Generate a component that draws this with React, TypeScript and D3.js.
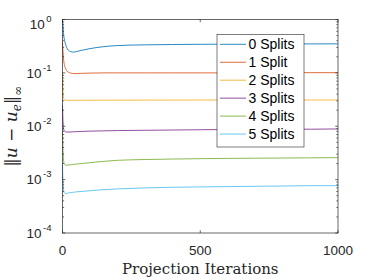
import React, { useRef, useEffect } from 'react';
import * as d3 from 'd3';

// iterations sampled along the curves
const iterations = [0, 2, 5, 10, 15, 20, 30, 40, 50, 70, 100, 150, 200, 300, 400, 500, 600, 700, 800, 900, 1000];

const split0 = [1.0, 0.7, 0.48, 0.36, 0.3, 0.27, 0.25, 0.245, 0.25, 0.265, 0.285, 0.31, 0.325, 0.335, 0.34, 0.343, 0.345, 0.347, 0.348, 0.349, 0.35];
const split1 = [0.38, 0.25, 0.16, 0.125, 0.11, 0.104, 0.099, 0.097, 0.097, 0.098, 0.099, 0.1, 0.1, 0.1, 0.1, 0.1, 0.1, 0.101, 0.101, 0.101, 0.101];
const split2 = [0.1, 0.045, 0.032, 0.0308, 0.0306, 0.0306, 0.0306, 0.0306, 0.0306, 0.0307, 0.0307, 0.0308, 0.0308, 0.0309, 0.0309, 0.031, 0.031, 0.031, 0.031, 0.031, 0.031];
const split3 = [0.025, 0.012, 0.0085, 0.0079, 0.0078, 0.0078, 0.0078, 0.0079, 0.0079, 0.008, 0.0081, 0.0082, 0.0083, 0.0084, 0.0085, 0.0086, 0.0087, 0.0087, 0.0088, 0.0088, 0.0089];
const split4 = [0.008, 0.0035, 0.0021, 0.00188, 0.00186, 0.00188, 0.0019, 0.00193, 0.00196, 0.002, 0.00208, 0.0022, 0.0023, 0.00238, 0.00243, 0.00247, 0.0025, 0.00252, 0.00254, 0.00256, 0.00258];
const split5 = [0.0019, 0.0009, 0.0006, 0.00055, 0.00055, 0.00056, 0.00057, 0.00058, 0.00059, 0.0006, 0.00062, 0.00065, 0.00067, 0.0007, 0.00072, 0.00073, 0.00074, 0.00075, 0.00076, 0.00077, 0.00077];

const seriesNames = ['0 Splits', '1 Split', '2 Splits', '3 Splits', '4 Splits', '5 Splits'];
const seriesValues = [split0, split1, split2, split3, split4, split5];
const colors = ['#0072BD', '#D95319', '#EDB120', '#7E2F8E', '#77AC30', '#4DBEEE'];

const xTicks = [0, 500, 1000];
const yExponents = [0, -1, -2, -3, -4];

const W = 374;
const H = 280;
const margin = { left: 62.5, right: 36, top: 19.5, bottom: 47 };
const axisColor = '#262626';

const App = () => {
  const svgRef = useRef<SVGSVGElement>(null);

  useEffect(() => {
    const svg = d3.select(svgRef.current);
    svg.selectAll('*').remove();

    const x = d3.scaleLinear().domain([0, 1000]).range([margin.left, W - margin.right]);
    const y = d3.scaleLog().domain([1e-4, 1]).range([H - margin.bottom, margin.top]);
    const [x0, x1] = x.range();
    const [y1, y0] = y.range();

    svg.append('rect').attr('width', W).attr('height', H).attr('fill', '#fff');

    // lines
    const line = d3.line<number>()
      .x((d, i) => x(iterations[i]))
      .y(d => y(d))
      .curve(d3.curveMonotoneX);

    seriesValues.forEach((vals, k) => {
      svg.append('path')
        .datum(vals)
        .attr('d', line)
        .attr('fill', 'none')
        .attr('stroke', colors[k])
        .attr('stroke-width', 0.85);
    });

    // box
    const g = svg.append('g').attr('stroke', axisColor).attr('stroke-width', 0.7).attr('fill', 'none');
    g.append('rect').attr('x', x0).attr('y', y0).attr('width', x1 - x0).attr('height', y1 - y0);

    // y ticks, major and minor, both sides
    const major = 2.75;
    const minor = 1.6;
    for (let e = -4; e <= 0; e++) {
      const yy = y(Math.pow(10, e));
      g.append('line').attr('x1', x0).attr('x2', x0 + major).attr('y1', yy).attr('y2', yy);
      g.append('line').attr('x1', x1).attr('x2', x1 - major).attr('y1', yy).attr('y2', yy);
      if (e < 0) {
        for (let m = 2; m <= 9; m++) {
          const ym = y(m * Math.pow(10, e));
          g.append('line').attr('x1', x0).attr('x2', x0 + minor).attr('y1', ym).attr('y2', ym);
          g.append('line').attr('x1', x1).attr('x2', x1 - minor).attr('y1', ym).attr('y2', ym);
        }
      }
    }
    xTicks.forEach(t => {
      const xx = x(t);
      g.append('line').attr('x1', xx).attr('x2', xx).attr('y1', y1).attr('y2', y1 - major);
      g.append('line').attr('x1', xx).attr('x2', xx).attr('y1', y0).attr('y2', y0 + major);
    });

    // tick labels
    const font = 'Liberation Sans, Arial, sans-serif';
    xTicks.forEach(t => {
      svg.append('text')
        .attr('x', x(t))
        .attr('y', y1 + 22)
        .attr('text-anchor', 'middle')
        .attr('font-family', font)
        .attr('font-size', 13.5)
        .attr('fill', axisColor)
        .text(t);
    });
    yExponents.forEach(e => {
      const yy = y(Math.pow(10, e));
      const t = svg.append('text')
        .attr('x', 51.5)
        .attr('y', Math.max(yy + 4.8, 28.5))
        .attr('text-anchor', 'end')
        .attr('font-family', font)
        .attr('font-size', 13.5)
        .attr('fill', axisColor);
      t.append('tspan').text('10');
      t.append('tspan').attr('dy', -7).attr('dx', 1.5).attr('font-size', 9.5).text(e < 0 ? '-' + (-e) : String(e));
    });

    // axis labels
    svg.append('text')
      .attr('x', (x0 + x1) / 2)
      .attr('y', 273.5)
      .attr('text-anchor', 'middle')
      .attr('font-family', 'DejaVu Serif, serif')
      .attr('font-size', 15)
      .attr('fill', axisColor)
      .text('Projection Iterations');

    const yl = svg.append('text')
      .attr('transform', `translate(17,${(y0 + y1) / 2}) rotate(-90)`)
      .attr('text-anchor', 'middle')
      .attr('font-family', 'DejaVu Serif, serif')
      .attr('font-size', 17)
      .attr('fill', axisColor);
    yl.append('tspan').text('\u2016');
    yl.append('tspan').attr('font-style', 'italic').text('u');
    yl.append('tspan').text(' \u2212 ');
    yl.append('tspan').attr('font-style', 'italic').text('u');
    yl.append('tspan').attr('font-style', 'italic').attr('font-size', 12).attr('dy', 3.5).text('e');
    yl.append('tspan').attr('dy', -3.5).text('\u2016');
    yl.append('tspan').attr('font-size', 12).attr('dy', 4.5).text('\u221E');

    // legend
    const lx = 217, ly = 34.5, lw = 87, lh = 112.5;
    svg.append('rect')
      .attr('x', lx).attr('y', ly).attr('width', lw).attr('height', lh)
      .attr('fill', '#fff').attr('stroke', axisColor).attr('stroke-width', 0.6);
    seriesNames.forEach((name, k) => {
      const yy = 44.3 + k * 17.95;
      svg.append('line')
        .attr('x1', lx + 3).attr('x2', lx + 29).attr('y1', yy).attr('y2', yy)
        .attr('stroke', colors[k]).attr('stroke-width', 0.85);
      svg.append('text')
        .attr('x', lx + 31.5).attr('y', yy + 5)
        .attr('font-family', font).attr('font-size', 14).attr('fill', '#000')
        .text(name);
    });
  }, []);

  return (
    <div style={{ position: 'absolute', left: 0, top: 0 }}>
      <svg ref={svgRef} width={W} height={H} style={{ display: 'block' }}></svg>
    </div>
  );
};

export default App;
